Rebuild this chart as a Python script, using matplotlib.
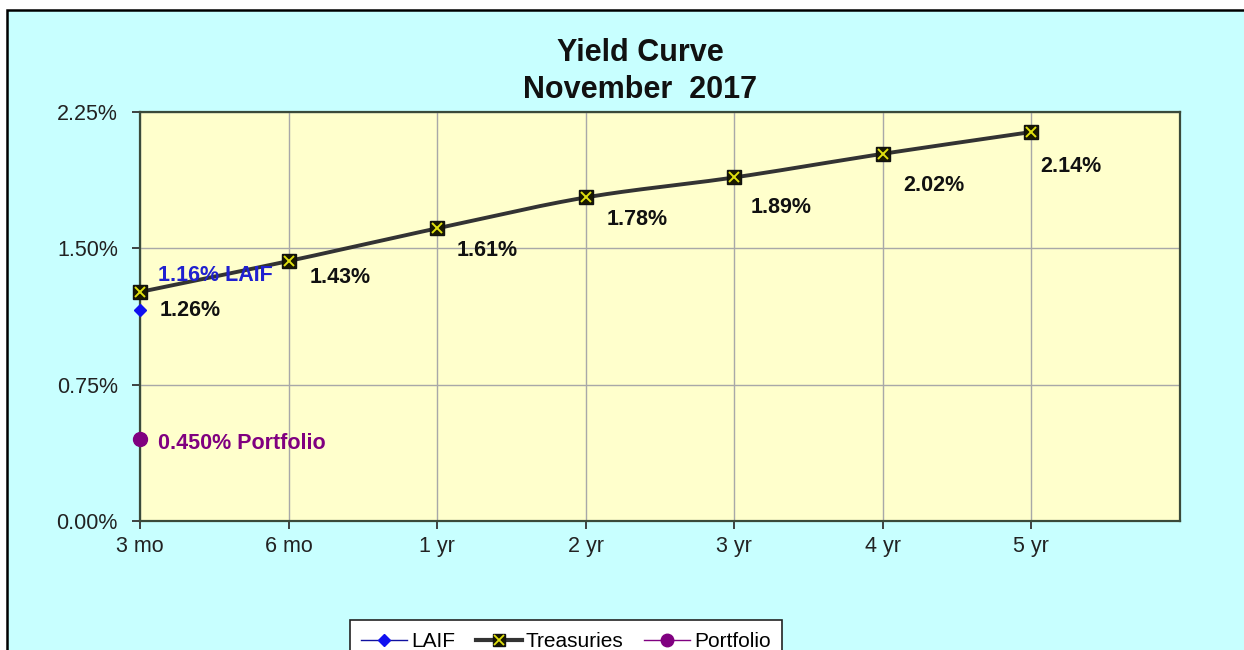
import numpy as np
import matplotlib.pyplot as plt
from matplotlib.patches import Rectangle
from matplotlib.lines import Line2D
from matplotlib.ticker import FuncFormatter

plt.rcParams['font.family'] = ['Liberation Sans', 'DejaVu Sans']

# --- data ---
maturities = ["3 mo", "6 mo", "1 yr", "2 yr", "3 yr", "4 yr", "5 yr"]
treasuries = [1.26, 1.43, 1.61, 1.78, 1.89, 2.02, 2.14]
laif = [1.16]
portfolio = [0.450]

# label offsets (points) for the treasury data labels
label_offsets = [(14, -13), (15, -12), (14, -16), (15, -16), (12, -22), (15, -23), (6, -25)]

BG = "#C8FFFF"
PLOT_BG = "#FFFFCC"


def smooth_curve(x, y, n=30):
    # Catmull-Rom spline through the points, like a smoothed line in a spreadsheet
    x = np.asarray(x, float)
    y = np.asarray(y, float)
    px = np.concatenate([[2 * x[0] - x[1]], x, [2 * x[-1] - x[-2]]])
    py = np.concatenate([[2 * y[0] - y[1]], y, [2 * y[-1] - y[-2]]])
    xs, ys = [], []
    t = np.linspace(0, 1, n)
    for i in range(1, len(px) - 2):
        for p, out in ((px, xs), (py, ys)):
            p0, p1, p2, p3 = p[i - 1], p[i], p[i + 1], p[i + 2]
            out.extend(0.5 * ((2 * p1) + (-p0 + p2) * t
                              + (2 * p0 - 5 * p1 + 4 * p2 - p3) * t ** 2
                              + (-p0 + 3 * p1 - 3 * p2 + p3) * t ** 3))
    return np.array(xs), np.array(ys)


fig = plt.figure(figsize=(12.44, 6.5), dpi=100, facecolor="white")
fig.patches.append(Rectangle((7 / 1244, -0.2), 1.2, 1.2 - 10 / 650,
                             transform=fig.transFigure, facecolor=BG,
                             edgecolor="black", linewidth=1.8, zorder=-10))

ax = fig.add_axes([140 / 1244, 1 - 521 / 650, 1040 / 1244, 409 / 650])
ax.set_zorder(2)
ax.set_facecolor(PLOT_BG)

x = np.arange(len(maturities))
sx, sy = smooth_curve(x, treasuries)
ax.plot(sx, sy, color="#333333", lw=2.8, zorder=3, solid_capstyle="round")
ax.plot(x, treasuries, ls="none", marker="s", ms=9.5, mfc="#1A1A00", mec="#111111",
        mew=1.0, zorder=4, clip_on=False)
ax.plot(x, treasuries, ls="none", marker="x", ms=7, mec="#E0E010", mew=1.4, zorder=5,
        clip_on=False)

ax.plot(x[:len(laif)], laif, ls="none", marker="D", ms=6, color="#1010F0", zorder=4,
        clip_on=False)
ax.plot(x[:len(portfolio)], portfolio, ls="none", marker="o", ms=10, color="#800080",
        zorder=4, clip_on=False)

for xi, v, off in zip(x, treasuries, label_offsets):
    ax.annotate(f"{v:.2f}%", (xi, v), xytext=off, textcoords="offset points",
                ha="left", va="center", fontsize=15.5, fontweight="bold",
                color="#111111", zorder=6)

ax.annotate(f"{laif[0]:.2f}% LAIF", (0, laif[0]), xytext=(13, 25),
            textcoords="offset points", ha="left", va="center", fontsize=15.5,
            fontweight="bold", color="#2020D0", zorder=6)
ax.annotate(f"{portfolio[0]:.3f}% Portfolio", (0, portfolio[0]), xytext=(13, -3),
            textcoords="offset points", ha="left", va="center", fontsize=15.5,
            fontweight="bold", color="#800080", zorder=6)

ax.set_xlim(0, 7)
ax.set_ylim(0, 2.25)
ax.set_xticks(x)
ax.set_xticklabels(maturities)
ax.set_yticks([0, 0.75, 1.5, 2.25])
ax.yaxis.set_major_formatter(FuncFormatter(lambda v, _: f"{v:.2f}%"))
ax.tick_params(direction="out", length=6, width=1.3, color="#333333",
               labelsize=15.5, labelcolor="#222222")
ax.tick_params(axis="y", pad=10)
ax.tick_params(axis="x", pad=5)
ax.grid(True, color="#A8A8A8", lw=1.0, zorder=1)
ax.set_axisbelow(True)
for s in ax.spines.values():
    s.set_color("#3A4A3A")
    s.set_linewidth(1.6)

fig.text(640 / 1244, 1 - 53 / 650, "Yield Curve", ha="center", va="center",
         fontsize=22, fontweight="bold", color="#111111")
fig.text(640 / 1244, 1 - 90 / 650, "November  2017", ha="center", va="center",
         fontsize=22, fontweight="bold", color="#111111")

laif_h = Line2D([], [], color="#1010A0", lw=1.0, marker="D", ms=6,
                mfc="#1010F0", mec="#1010F0")
tsy_h = (Line2D([], [], color="#333333", lw=3.0, marker="s", ms=9,
                mfc="#1A1A00", mec="#111111"),
         Line2D([], [], ls="none", marker="x", ms=6.5, mec="#E0E010", mew=1.3))
port_h = Line2D([], [], color="#800080", lw=1.0, marker="o", ms=9,
                mfc="#800080", mec="#800080")
leg = fig.legend([laif_h, tsy_h, port_h], ["LAIF", "Treasuries", "Portfolio"],
                 loc="upper center", bbox_to_anchor=(566 / 1244, 1 - 610 / 650),
                 ncol=3, fontsize=15, frameon=True, fancybox=False,
                 edgecolor="#222222", facecolor="white", framealpha=1,
                 borderpad=0.55, handlelength=2.2, handletextpad=0.2,
                 columnspacing=1.0)
leg.get_frame().set_linewidth(1.2)

fig.savefig("out.png", dpi=100, facecolor=fig.get_facecolor())
